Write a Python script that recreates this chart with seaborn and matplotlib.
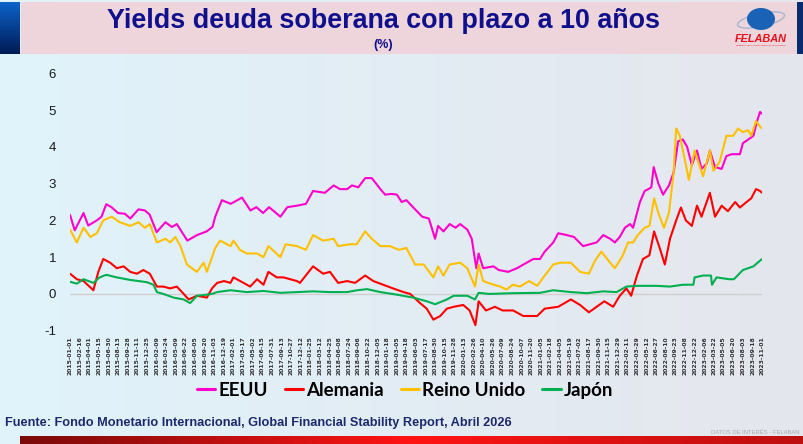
import numpy as np
import pandas as pd
import matplotlib
matplotlib.use("Agg")
import matplotlib.pyplot as plt
import seaborn as sns
from matplotlib.patches import Rectangle, Ellipse
from matplotlib.lines import Line2D
from matplotlib.colors import to_rgb

# Yields a 10 años (%)
eeuu = [("2015-01-01", 2.15), ("2015-01-23", 1.73), ("2015-03-05", 2.2), ("2015-03-27", 1.86),
        ("2015-05-06", 2.0), ("2015-05-28", 2.1), ("2015-06-19", 2.44), ("2015-07-13", 2.36),
        ("2015-08-13", 2.2), ("2015-09-14", 2.18), ("2015-10-09", 2.05), ("2015-11-16", 2.3),
        ("2015-12-16", 2.27), ("2016-01-07", 2.16), ("2016-02-09", 1.68), ("2016-03-21", 1.95),
        ("2016-04-20", 1.82), ("2016-05-13", 1.9), ("2016-07-01", 1.45), ("2016-08-15", 1.6),
        ("2016-09-29", 1.7), ("2016-10-26", 1.82), ("2016-11-08", 2.1), ("2016-12-09", 2.55),
        ("2017-01-19", 2.45), ("2017-03-13", 2.62), ("2017-04-21", 2.27), ("2017-05-19", 2.36),
        ("2017-06-19", 2.2), ("2017-07-17", 2.36), ("2017-09-08", 2.1), ("2017-10-10", 2.36),
        ("2017-11-24", 2.4), ("2018-01-05", 2.45), ("2018-02-07", 2.8), ("2018-04-03", 2.75),
        ("2018-05-14", 2.95), ("2018-06-13", 2.85), ("2018-07-16", 2.85), ("2018-08-07", 2.95),
        ("2018-09-06", 2.9), ("2018-10-08", 3.15), ("2018-11-08", 3.15), ("2018-12-18", 2.85),
        ("2019-01-09", 2.7), ("2019-02-08", 2.72), ("2019-03-05", 2.7), ("2019-03-27", 2.5),
        ("2019-04-18", 2.55), ("2019-05-29", 2.3), ("2019-07-01", 2.1), ("2019-08-01", 2.05),
        ("2019-08-30", 1.5), ("2019-09-13", 1.85), ("2019-10-08", 1.7), ("2019-11-06", 1.9),
        ("2019-12-03", 1.8), ("2019-12-25", 1.9), ("2020-01-27", 1.75), ("2020-02-17", 1.5),
        ("2020-03-09", 0.7), ("2020-03-20", 1.1), ("2020-04-10", 0.7), ("2020-05-28", 0.75),
        ("2020-06-22", 0.65), ("2020-08-05", 0.6), ("2020-09-15", 0.7), ("2020-10-30", 0.85),
        ("2020-11-30", 0.95), ("2020-12-31", 0.95), ("2021-01-22", 1.15), ("2021-03-03", 1.4),
        ("2021-03-26", 1.65), ("2021-05-05", 1.6), ("2021-06-07", 1.55), ("2021-07-20", 1.3),
        ("2021-08-20", 1.35), ("2021-09-21", 1.4), ("2021-10-22", 1.6), ("2021-11-23", 1.5),
        ("2021-12-15", 1.4), ("2022-01-07", 1.55), ("2022-01-31", 1.8), ("2022-02-24", 1.9),
        ("2022-03-10", 1.8), ("2022-04-11", 2.5), ("2022-05-03", 2.8), ("2022-05-20", 2.85),
        ("2022-06-03", 2.9), ("2022-06-14", 3.45), ("2022-07-06", 3.0), ("2022-07-28", 2.7),
        ("2022-08-24", 2.95), ("2022-09-15", 3.3), ("2022-10-06", 4.15), ("2022-10-28", 4.2),
        ("2022-11-17", 4.0), ("2022-12-09", 3.5), ("2023-01-02", 3.9), ("2023-01-23", 3.4),
        ("2023-02-17", 3.55), ("2023-03-03", 3.9), ("2023-03-27", 3.45), ("2023-04-27", 3.4),
        ("2023-05-19", 3.75), ("2023-06-13", 3.8), ("2023-07-21", 3.8), ("2023-08-04", 4.1),
        ("2023-08-29", 4.2), ("2023-09-22", 4.3), ("2023-10-09", 4.7), ("2023-10-23", 4.95),
        ("2023-11-01", 4.9)]

alemania = [("2015-01-01", 0.55), ("2015-02-02", 0.4), ("2015-03-05", 0.35), ("2015-04-20", 0.1),
            ("2015-05-13", 0.6), ("2015-06-05", 0.95), ("2015-07-07", 0.85), ("2015-08-07", 0.7),
            ("2015-09-08", 0.75), ("2015-10-09", 0.6), ("2015-11-09", 0.55), ("2015-12-09", 0.65),
            ("2016-01-08", 0.55), ("2016-02-10", 0.2), ("2016-03-11", 0.2), ("2016-04-12", 0.15),
            ("2016-05-13", 0.2), ("2016-06-14", 0.0), ("2016-07-07", -0.15), ("2016-08-15", -0.05),
            ("2016-09-30", -0.1), ("2016-10-24", 0.15), ("2016-11-17", 0.3), ("2016-12-19", 0.35),
            ("2017-01-18", 0.3), ("2017-02-01", 0.45), ("2017-03-20", 0.3), ("2017-04-20", 0.2),
            ("2017-05-22", 0.4), ("2017-06-21", 0.25), ("2017-07-14", 0.6), ("2017-08-22", 0.45),
            ("2017-09-22", 0.45), ("2017-11-24", 0.35), ("2017-12-08", 0.3), ("2018-02-07", 0.75),
            ("2018-03-26", 0.55), ("2018-04-27", 0.6), ("2018-06-04", 0.3), ("2018-07-16", 0.35),
            ("2018-08-22", 0.3), ("2018-10-08", 0.5), ("2018-11-15", 0.35), ("2018-12-31", 0.25),
            ("2019-02-15", 0.15), ("2019-04-05", 0.05), ("2019-05-06", 0.0), ("2019-06-21", -0.25),
            ("2019-07-22", -0.4), ("2019-08-22", -0.7), ("2019-09-23", -0.6), ("2019-10-24", -0.4),
            ("2019-11-25", -0.35), ("2020-01-08", -0.3), ("2020-02-07", -0.45), ("2020-03-05", -0.85),
            ("2020-03-20", -0.2), ("2020-04-23", -0.45), ("2020-06-04", -0.35), ("2020-07-10", -0.45),
            ("2020-08-28", -0.45), ("2020-10-14", -0.6), ("2020-11-30", -0.6), ("2020-12-18", -0.6),
            ("2021-01-22", -0.4), ("2021-03-26", -0.35), ("2021-05-24", -0.15), ("2021-07-06", -0.3),
            ("2021-08-16", -0.5), ("2021-09-21", -0.35), ("2021-10-27", -0.2), ("2021-12-07", -0.35),
            ("2022-01-07", -0.05), ("2022-02-07", 0.15), ("2022-03-01", -0.05), ("2022-03-28", 0.5),
            ("2022-04-25", 0.95), ("2022-05-25", 1.05), ("2022-06-16", 1.7), ("2022-07-12", 1.25),
            ("2022-08-05", 0.8), ("2022-08-29", 1.5), ("2022-09-27", 2.0), ("2022-10-19", 2.35),
            ("2022-11-11", 2.0), ("2022-12-09", 1.85), ("2023-01-02", 2.4), ("2023-01-23", 2.1),
            ("2023-03-03", 2.75), ("2023-03-27", 2.1), ("2023-04-27", 2.4), ("2023-05-26", 2.25),
            ("2023-06-29", 2.5), ("2023-07-21", 2.35), ("2023-08-21", 2.5), ("2023-09-12", 2.6),
            ("2023-10-04", 2.85), ("2023-10-23", 2.8), ("2023-11-01", 2.75)]

reino_unido = [("2015-01-01", 1.75), ("2015-02-02", 1.4), ("2015-03-05", 1.8), ("2015-04-06", 1.55),
               ("2015-05-06", 1.65), ("2015-06-05", 2.0), ("2015-07-14", 2.1), ("2015-08-21", 1.95),
               ("2015-10-09", 1.85), ("2015-11-16", 1.95), ("2015-12-16", 1.8), ("2016-01-08", 1.9),
               ("2016-02-10", 1.4), ("2016-03-21", 1.5), ("2016-04-12", 1.4), ("2016-05-06", 1.55),
               ("2016-05-30", 1.3), ("2016-06-29", 0.8), ("2016-08-15", 0.6), ("2016-09-15", 0.85),
               ("2016-09-30", 0.6), ("2016-11-08", 1.25), ("2016-12-01", 1.45), ("2017-01-18", 1.3),
               ("2017-02-01", 1.45), ("2017-03-03", 1.2), ("2017-04-04", 1.1), ("2017-05-22", 1.1),
               ("2017-06-21", 1.0), ("2017-07-14", 1.3), ("2017-09-08", 1.0), ("2017-10-02", 1.35),
               ("2017-11-24", 1.3), ("2018-01-05", 1.2), ("2018-02-07", 1.6), ("2018-03-26", 1.45),
               ("2018-05-14", 1.5), ("2018-06-04", 1.3), ("2018-07-27", 1.35), ("2018-08-29", 1.35),
               ("2018-10-08", 1.7), ("2018-11-08", 1.5), ("2018-12-18", 1.3), ("2019-02-01", 1.3),
               ("2019-03-14", 1.2), ("2019-04-18", 1.25), ("2019-05-29", 0.8), ("2019-07-08", 0.8),
               ("2019-08-22", 0.45), ("2019-09-13", 0.75), ("2019-10-08", 0.5), ("2019-11-06", 0.8),
               ("2019-12-25", 0.85), ("2020-01-27", 0.7), ("2020-03-03", 0.2), ("2020-03-20", 0.8),
               ("2020-04-10", 0.35), ("2020-05-28", 0.25), ("2020-06-29", 0.2), ("2020-07-27", 0.12),
               ("2020-08-28", 0.25), ("2020-09-29", 0.2), ("2020-11-11", 0.35), ("2020-12-18", 0.22),
               ("2021-01-22", 0.5), ("2021-03-03", 0.8), ("2021-04-05", 0.85), ("2021-05-24", 0.85),
               ("2021-07-06", 0.6), ("2021-08-16", 0.55), ("2021-09-13", 0.9), ("2021-10-13", 1.15),
               ("2021-11-23", 0.85), ("2021-12-15", 0.7), ("2022-01-17", 1.0), ("2022-02-15", 1.4),
               ("2022-03-10", 1.4), ("2022-04-01", 1.6), ("2022-05-03", 1.8), ("2022-05-25", 1.85),
               ("2022-06-16", 2.6), ("2022-07-06", 2.2), ("2022-08-01", 1.8), ("2022-08-24", 2.2),
               ("2022-09-15", 3.3), ("2022-09-27", 4.5), ("2022-10-14", 4.3), ("2022-11-08", 3.6),
               ("2022-11-25", 3.1), ("2022-12-22", 3.9), ("2023-01-13", 3.5), ("2023-01-30", 3.2),
               ("2023-03-03", 3.9), ("2023-03-20", 3.35), ("2023-04-18", 3.6), ("2023-05-19", 4.3),
               ("2023-06-20", 4.3), ("2023-07-12", 4.5), ("2023-08-04", 4.4), ("2023-08-29", 4.45),
               ("2023-09-12", 4.3), ("2023-10-04", 4.7), ("2023-10-23", 4.55), ("2023-11-01", 4.5)]

japon = [("2015-01-01", 0.33), ("2015-02-02", 0.28), ("2015-03-05", 0.4), ("2015-04-20", 0.3),
         ("2015-05-19", 0.45), ("2015-06-19", 0.52), ("2015-08-07", 0.45), ("2015-10-09", 0.38),
         ("2015-12-25", 0.32), ("2016-01-25", 0.25), ("2016-02-10", 0.05), ("2016-03-11", 0.0),
         ("2016-04-28", -0.1), ("2016-06-14", -0.15), ("2016-07-14", -0.25), ("2016-08-15", -0.05),
         ("2016-09-15", -0.03), ("2016-10-24", 0.0), ("2016-11-17", 0.05), ("2017-01-18", 0.1),
         ("2017-04-04", 0.05), ("2017-06-21", 0.08), ("2017-09-08", 0.03), ("2017-11-24", 0.05),
         ("2018-02-07", 0.07), ("2018-04-27", 0.05), ("2018-07-16", 0.05), ("2018-08-31", 0.1),
         ("2018-10-17", 0.13), ("2018-12-18", 0.05), ("2019-03-05", -0.02), ("2019-05-20", -0.1),
         ("2019-07-22", -0.2), ("2019-08-30", -0.28), ("2019-10-24", -0.15), ("2019-11-25", -0.05),
         ("2020-01-27", -0.05), ("2020-03-03", -0.15), ("2020-03-20", 0.03), ("2020-05-08", 0.0),
         ("2020-08-28", 0.02), ("2020-12-31", 0.03), ("2021-03-03", 0.1), ("2021-05-24", 0.05),
         ("2021-08-06", 0.02), ("2021-10-22", 0.07), ("2021-12-23", 0.05), ("2022-02-07", 0.2),
         ("2022-03-28", 0.22), ("2022-06-27", 0.22), ("2022-08-29", 0.2), ("2022-10-28", 0.25),
         ("2022-12-16", 0.25), ("2022-12-22", 0.45), ("2023-01-30", 0.5), ("2023-03-08", 0.5),
         ("2023-03-13", 0.25), ("2023-04-03", 0.45), ("2023-06-01", 0.4), ("2023-06-23", 0.4),
         ("2023-08-04", 0.65), ("2023-09-22", 0.75), ("2023-11-01", 0.95)]

paises = ["EEUU", "Alemania", "Reino Unido", "Japón"]
colores = ["#FF00CC", "#FF0000", "#FFC000", "#00B050"]
series = [eeuu, alemania, reino_unido, japon]

frames = []
for pais, datos in zip(paises, series):
    d = pd.DataFrame(datos, columns=["fecha", "valor"])
    d["pais"] = pais
    frames.append(d)
df = pd.concat(frames, ignore_index=True)
df["fecha"] = pd.to_datetime(df["fecha"])

# etiquetas del eje x: cada 32 días hábiles
fechas_eje = pd.bdate_range("2015-01-01", "2023-11-01")[::32]

sns.set_theme(style="white")
plt.rcParams["font.family"] = ["Liberation Sans", "DejaVu Sans"]
plt.rcParams["axes.unicode_minus"] = False

W, H = 804, 444
fig = plt.figure(figsize=(W / 100, H / 100), dpi=100)

# fondo
bg = fig.add_axes([0, 0, 1, 1], zorder=0)
bg.axis("off")
t = np.linspace(0, 1, 200)
c1, c2 = np.array(to_rgb("#e0f3fb")), np.array(to_rgb("#e5e6ed"))
grad = c1[None, None, :] * (1 - t[None, :, None]) + c2[None, None, :] * t[None, :, None]
grad = np.repeat(grad, 10, axis=0)
bg.imshow(grad, extent=(0, W, H, 0), aspect="auto")
bg.add_patch(Rectangle((21, 2), 776, 52, color="#eed5db", lw=0))
azul = np.linspace(0, 1, 50)[:, None, None] * (np.array(to_rgb("#021a55")) - np.array(to_rgb("#0b63c9"))) + np.array(to_rgb("#0b63c9"))
bg.imshow(np.repeat(azul, 4, axis=1), extent=(0, 20, 54, 2), aspect="auto")
bg.add_patch(Rectangle((797, 2), 7, 52, color="#0a2c6e", lw=0))
# banda roja inferior
r = np.concatenate([np.linspace(0, 1, 100), np.linspace(1, 0.5, 100)])
rojo = np.array(to_rgb("#7a0a0a"))[None, :] * (1 - r[:, None]) + np.array(to_rgb("#ff1414"))[None, :] * r[:, None]
bg.imshow(rojo[None, :, :], extent=(20, W, H, 436), aspect="auto")
bg.set_xlim(0, W)
bg.set_ylim(H, 0)

# logo
bg.add_patch(Ellipse((761, 20), 48, 13, angle=-12, fill=False, ec="#a9b5cf", lw=1))
bg.add_patch(Ellipse((761, 19), 28, 22, color="#1a62b5", lw=0))
bg.text(761, 39, "FELABAN", color="#e3101a", fontsize=7.8, fontweight="bold",
        fontstyle="italic", ha="center", va="center")
bg.text(761, 45.5, "FEDERACIÓN LATINOAMERICANA DE BANCOS", color="#e3101a", fontsize=1.6,
        ha="center", va="center")

# títulos
fig.text(384 / W, 1 - 21 / H, "Yields deuda soberana con plazo a 10 años", color="#10108c",
         fontsize=19.4, fontweight="bold", ha="center", va="center")
fig.text(383 / W, 1 - 45 / H, "(%)", color="#10108c", fontsize=9, fontweight="bold",
         ha="center", va="center")

# gráfico
ax = fig.add_axes([70 / W, 113.3 / H, 692 / W, 257.4 / H], zorder=1)
ax.set_facecolor("none")
ax.axhline(0, color="#cfcfcf", lw=1, zorder=0)
sns.lineplot(data=df, x="fecha", y="valor", hue="pais", hue_order=paises, palette=colores,
             estimator=None, sort=True, linewidth=1.5, legend=False, ax=ax)
ax.set_xlim(pd.Timestamp("2015-01-01"), pd.Timestamp("2023-11-01"))
ax.set_ylim(-1, 6)
ax.set_yticks(range(-1, 7))
ax.set_xticks(fechas_eje)
ax.set_xticklabels([f.strftime("%Y-%m-%d") for f in fechas_eje], rotation=90,
                   fontsize=4.4, fontweight="bold", color="#333333", family="DejaVu Sans")
ax.tick_params(axis="x", length=0, pad=4)
ax.tick_params(axis="y", length=0, pad=10, labelsize=9.5, labelcolor="#1a1a1a")
ax.set_xlabel("")
ax.set_ylabel("")
for s in ax.spines.values():
    s.set_visible(False)

# leyenda
handles = [Line2D([], [], color=c, lw=2.2) for c in colores]
leg = fig.legend(handles, paises, loc="center", bbox_to_anchor=(405 / W, 1 - 390 / H), ncol=4,
                 frameon=False, handlelength=1.0, handletextpad=0.15, columnspacing=0.9,
                 prop={"family": ["Lato", "DejaVu Sans"], "size": 13.5, "weight": "bold"})
for txt in leg.get_texts():
    txt.set_color("black")

# pie
fig.text(5 / W, 1 - 423 / H,
         "Fuente: Fondo Monetario Internacional, Global Financial Stability Report, Abril 2026",
         color="#1c2a6b", fontsize=9.2, fontweight="bold", ha="left", va="center")
fig.text(800 / W, 1 - 432 / H, "DATOS DE INTERÉS - FELABAN", color="#a8a8a8", fontsize=4.2,
         ha="right", va="center")

fig.savefig("out.png", dpi=100)
